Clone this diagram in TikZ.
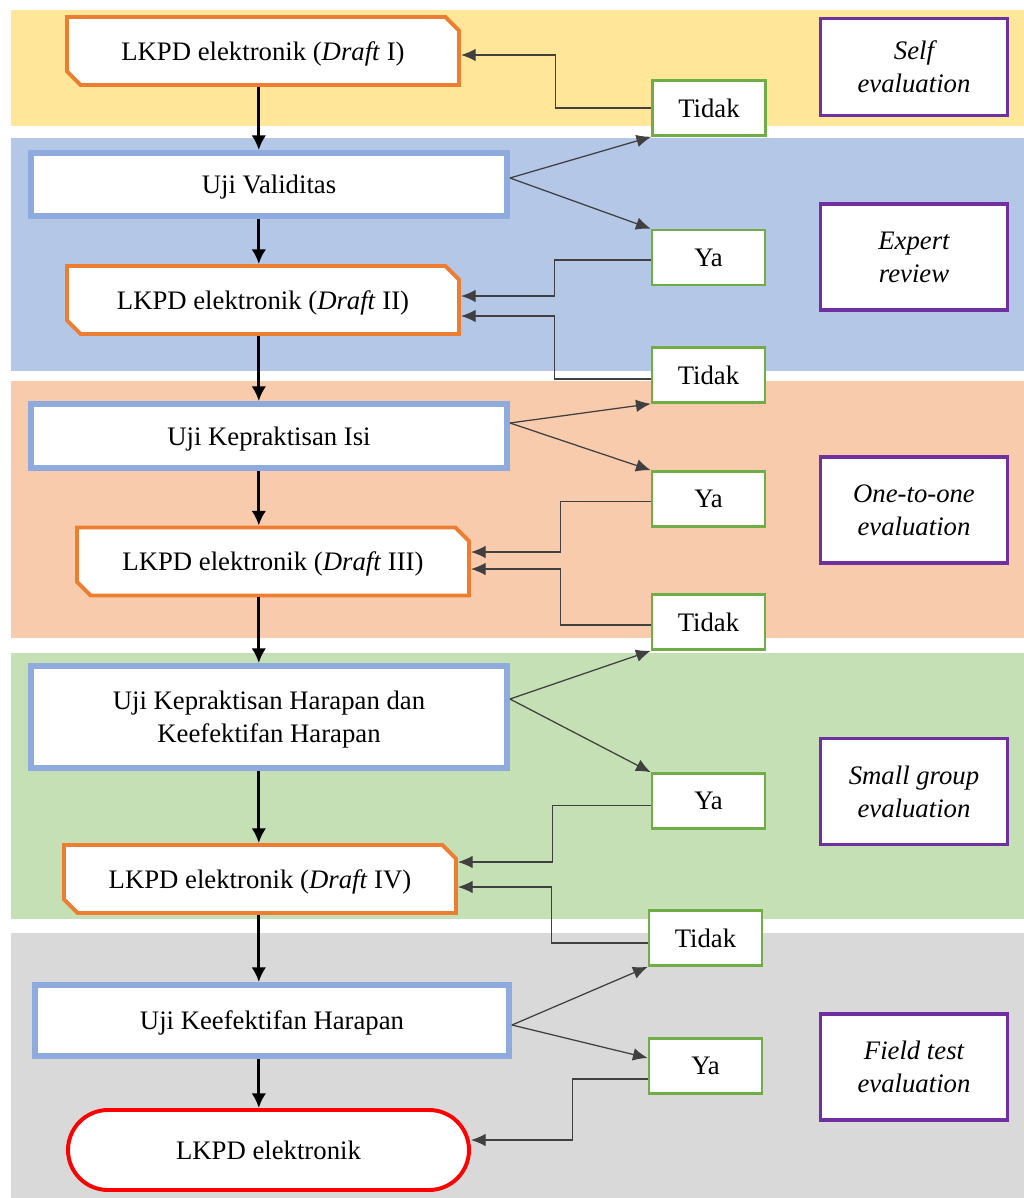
\documentclass[tikz,border=0pt]{standalone}
\usepackage{fontspec}
\setmainfont{Liberation Serif}
\usetikzlibrary{shapes.misc,arrows.meta,calc}

\definecolor{bandYellow}{HTML}{FFE699}
\definecolor{bandBlue}{HTML}{B4C7E7}
\definecolor{bandPeach}{HTML}{F8CBAD}
\definecolor{bandGreen}{HTML}{C5E0B4}
\definecolor{bandGrey}{HTML}{D9D9D9}
\definecolor{draftLine}{HTML}{ED7D31}
\definecolor{testLine}{HTML}{8FAADC}
\definecolor{answerLine}{HTML}{70AD47}
\definecolor{stageLine}{HTML}{7030A0}
\definecolor{flowGrey}{HTML}{404040}

\begin{document}
\begin{tikzpicture}[x=0.025cm, y=-0.025cm, font=\fontsize{19}{23.5}\selectfont]

    %
    % Styles for boxes, and edges
    %
    \tikzstyle{boxText} = [align=center, text=black, inner sep=0pt, fill=white, text depth=0pt]
    \tikzstyle{draft} = [boxText, chamfered rectangle, chamfered rectangle corners={north east,south west},
                          chamfered rectangle xsep=9pt, draw=draftLine, line width=2.8pt,
                          minimum width=392*0.025cm, minimum height=68*0.025cm]
    \tikzstyle{test} = [boxText, rectangle, draw=testLine, line width=4.2pt, minimum width=476*0.025cm]
    \tikzstyle{answer} = [boxText, rectangle, draw=answerLine, line width=1.8pt,
                          minimum width=113*0.025cm, minimum height=55*0.025cm]
    \tikzstyle{stage} = [boxText, rectangle, draw=stageLine, line width=2.2pt, font=\fontsize{19}{23.5}\selectfont\itshape,
                          minimum width=187*0.025cm]
    \tikzstyle{product} = [boxText, rounded rectangle, draw=red, line width=2.8pt,
                          minimum width=401*0.025cm, minimum height=80*0.025cm]
    \tikzstyle{mainFlow} = [black, line width=2.1pt, -{Latex[length=10.5pt,width=10.5pt]}]
    \tikzstyle{answerFlow} = [flowGrey, line width=0.9pt, -{Latex[length=10.5pt,width=9pt]}]

    \useasboundingbox (0,0) rectangle (1024,1198);

    %
    % Background bands
    %
    \fill[bandYellow] (11,10) rectangle (1024,126);
    \fill[bandBlue] (11,138) rectangle (1024,371);
    \fill[bandPeach] (11,381) rectangle (1024,638);
    \fill[bandGreen] (11,653) rectangle (1024,919);
    \fill[bandGrey] (11,933) rectangle (1024,1198);

    %
    % Position boxes
    %
    \node[draft, name=draftA] at (263,51) {LKPD elektronik (\textit{Draft} I)};
    \node[test, name=ujiA, minimum height=63*0.025cm] at (269,184.5) {Uji Validitas};
    \node[draft, name=draftB] at (263,300) {LKPD elektronik (\textit{Draft} II)};
    \node[test, name=ujiB, minimum height=64*0.025cm] at (269,436) {Uji Kepraktisan Isi};
    \node[draft, name=draftC] at (273,561.5) {LKPD elektronik (\textit{Draft} III)};
    \node[test, name=ujiC, minimum height=102*0.025cm] at (269,717) {Uji Kepraktisan Harapan dan\\Keefektifan Harapan};
    \node[draft, name=draftD] at (260,879) {LKPD elektronik (\textit{Draft} IV)};
    \node[test, name=ujiD, minimum height=71*0.025cm, minimum width=474*0.025cm] at (272,1020.5) {Uji Keefektifan Harapan};
    \node[product, name=lkpdFinal] at (268.5,1150) {LKPD elektronik};

    \node[answer, name=tidakA] at (709,108) {Tidak};
    \node[answer, name=yaA] at (708.5,257.5) {Ya};
    \node[answer, name=tidakB] at (708.5,375) {Tidak};
    \node[answer, name=yaB] at (708.5,499) {Ya};
    \node[answer, name=tidakC] at (708.5,622) {Tidak};
    \node[answer, name=yaC] at (708.5,801) {Ya};
    \node[answer, name=tidakD] at (705.5,938) {Tidak};
    \node[answer, name=yaD] at (705.5,1066) {Ya};

    \node[stage, name=selfEval, minimum height=97*0.025cm] at (914,67) {Self\\evaluation};
    \node[stage, name=expertReview, minimum height=106*0.025cm] at (914,257) {Expert\\review};
    \node[stage, name=oneToOne, minimum height=106*0.025cm] at (914,510) {One-to-one\\evaluation};
    \node[stage, name=smallGroup, minimum height=106*0.025cm] at (914,791.5) {Small group\\evaluation};
    \node[stage, name=fieldTest, minimum height=106*0.025cm] at (914,1067) {Field test\\evaluation};

    %
    % Main flow down the left
    %
    \coordinate (spine) at (258.8,0);
    \draw[mainFlow] (draftA.south -| spine) -- (ujiA.north -| spine);
    \draw[mainFlow] (ujiA.south -| spine) -- (draftB.north -| spine);
    \draw[mainFlow] (draftB.south -| spine) -- (ujiB.north -| spine);
    \draw[mainFlow] (ujiB.south -| spine) -- (draftC.north -| spine);
    \draw[mainFlow] (draftC.south -| spine) -- (ujiC.north -| spine);
    \draw[mainFlow] (ujiC.south -| spine) -- (draftD.north -| spine);
    \draw[mainFlow] (draftD.south -| spine) -- (ujiD.north -| spine);
    \draw[mainFlow] (ujiD.south -| spine) -- (lkpdFinal.north -| spine);

    %
    % Test results, and the way back
    %
    \draw[answerFlow] ($(ujiA.east)+(0,-6.5)$) -- (tidakA.south west);
    \draw[answerFlow] ($(ujiA.east)+(0,-6.5)$) -- (yaA.north west);
    \draw[answerFlow] (tidakA.west) -- ++(-96,0) |- ($(draftA.east)+(0,4)$);
    \draw[answerFlow] ($(yaA.west)+(0,2.5)$) -- ++(-96,0) |- ($(draftB.east)+(0,-4)$);

    \draw[answerFlow] ($(ujiB.east)+(0,-13)$) -- (tidakB.south west);
    \draw[answerFlow] ($(ujiB.east)+(0,-13)$) -- (yaB.north west);
    \draw[answerFlow] ($(tidakB.west)+(0,4)$) -- ++(-96,0) |- ($(draftB.east)+(0,16)$);
    \draw[answerFlow] ($(yaB.west)+(0,2.5)$) -- ++(-90,0) |- ($(draftC.east)+(0,-9.5)$);

    \draw[answerFlow] ($(ujiC.east)+(0,-18)$) -- (tidakC.south west);
    \draw[answerFlow] ($(ujiC.east)+(0,-18)$) -- (yaC.north west);
    \draw[answerFlow] ($(tidakC.west)+(0,3)$) -- ++(-90,0) |- ($(draftC.east)+(0,7.5)$);
    \draw[answerFlow] ($(yaC.west)+(0,4.5)$) -- ++(-98,0) |- ($(draftD.east)+(0,-17)$);

    \draw[answerFlow] ($(ujiD.east)+(0,4.5)$) -- (tidakD.south west);
    \draw[answerFlow] ($(ujiD.east)+(0,4.5)$) -- ($(yaD.west)+(0,-8)$);
    \draw[answerFlow] ($(tidakD.west)+(0,5)$) -- ++(-96,0) |- ($(draftD.east)+(0,8)$);
    \draw[answerFlow] ($(yaD.west)+(0,13)$) -- ++(-75,0) |- ($(lkpdFinal.east)+(0,-10)$);
\end{tikzpicture}
\end{document}
